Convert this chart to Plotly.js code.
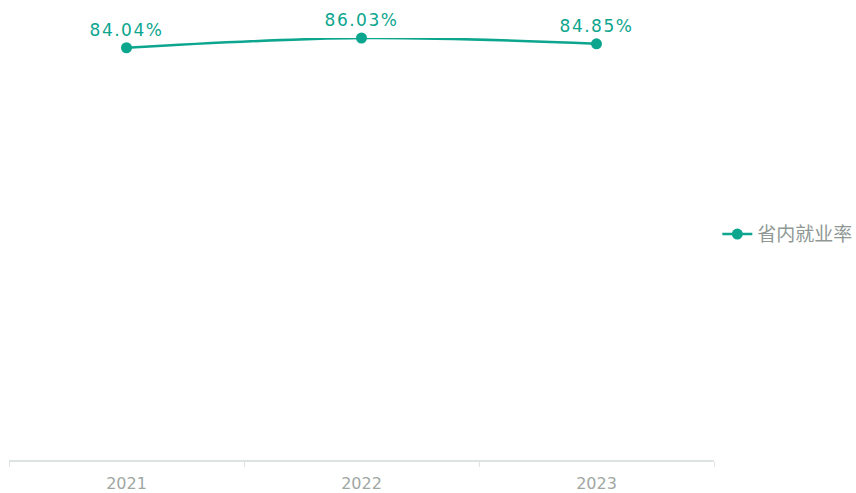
<!DOCTYPE html>
<html>
<head>
<meta charset="utf-8">
<script src="https://cdn.plot.ly/plotly-3.0.1.min.js"></script>
<style>
html,body{margin:0;padding:0;background:#fff;}
#chart{width:856px;height:493px;}
#chart .textpoint text{letter-spacing:1.5px;}
</style>
</head>
<body>
<div id="chart"></div>
<script>
const categories = ['2021', '2022', '2023'];
const seriesName = '省内就业率';
const values = [84.04, 86.03, 84.85];
const labels = values.map(v => v.toFixed(2) + '%');

const teal = '#0ca58e';
const trace = {
  type: 'scatter',
  mode: 'lines+markers+text',
  x: categories,
  y: values,
  name: seriesName,
  text: labels,
  textposition: 'top center',
  textfont: {family: 'DejaVu Sans, sans-serif', size: 17, color: teal},
  line: {color: teal, width: 2.5, shape: 'spline'},
  marker: {color: teal, size: 11},
  cliponaxis: false,
  hoverinfo: 'none'
};

const layout = {
  width: 856, height: 493,
  margin: {l: 9, r: 142, t: 38, b: 33},
  paper_bgcolor: '#fff', plot_bgcolor: '#fff',
  showlegend: true,
  legend: {
    xref: 'container', yref: 'container',
    x: 0.838, xanchor: 'left', y: 0.525, yanchor: 'middle',
    font: {family: 'Noto Sans CJK SC, sans-serif', size: 19, color: '#8f9894'},
    itemwidth: 30, bgcolor: 'rgba(0,0,0,0)'
  },
  xaxis: {
    type: 'category',
    range: [-0.5, 2.5],
    showline: true, linecolor: '#dde3e1', linewidth: 1.5,
    showgrid: false, zeroline: false,
    ticks: 'outside', tickson: 'boundaries', ticklen: 5, tickcolor: '#dde3e1', tickwidth: 1,
    ticklabelstandoff: 8,
    tickfont: {family: 'DejaVu Sans, sans-serif', size: 16, color: '#9fa7a3'},
    fixedrange: true
  },
  yaxis: {
    visible: false,
    range: [0, 86.03],
    fixedrange: true
  }
};

Plotly.newPlot('chart', [trace], layout, {displayModeBar: false, staticPlot: true});
</script>
</body>
</html>
